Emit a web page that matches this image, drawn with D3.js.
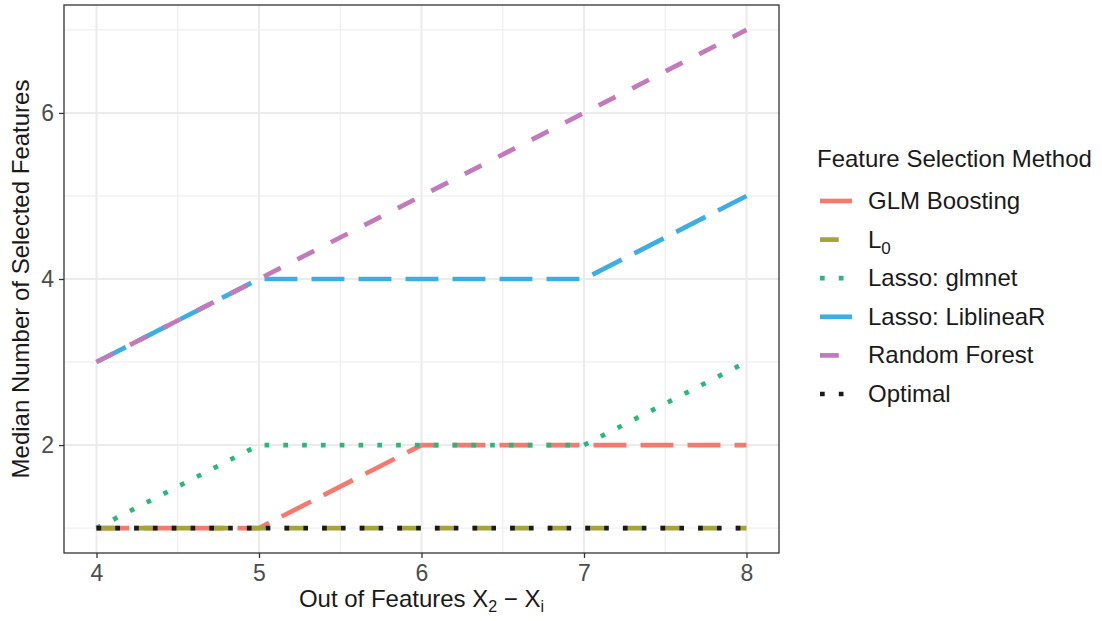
<!DOCTYPE html>
<html>
<head>
<meta charset="utf-8">
<script src="https://cdn.jsdelivr.net/npm/d3@7"></script>
<style>
  body { margin: 0; background: #fff; }
  text { font-family: "Liberation Sans", Arial, sans-serif; }
</style>
</head>
<body>
<div id="chart"></div>
<script>
// data
const outOfFeatures = [4, 5, 6, 7, 8];
const methods = ["GLM Boosting", "L0", "Lasso: glmnet", "Lasso: LiblineaR", "Random Forest", "Optimal"];
const glmBoosting = [1, 1, 2, 2, 2];
const l0 = [1, 1, 1, 1, 1];
const lassoGlmnet = [1, 2, 2, 2, 3];
const lassoLiblinear = [3, 4, 4, 4, 5];
const randomForest = [3, 4, 5, 6, 7];
const optimal = [1, 1, 1, 1, 1];
const yTicks = [2, 4, 6];
const xTicks = [4, 5, 6, 7, 8];

const width = 1102, height = 621;
const margin = { left: 64, top: 5, right: 323, bottom: 68 };
const pw = width - margin.left - margin.right;
const ph = height - margin.top - margin.bottom;
const fs = 23;

const lw = 4.7;
const styles = {
  "GLM Boosting":     { colour: "#f47a6f", dash: [7 * lw, 3 * lw] },
  "L0":               { colour: "#a4a438", dash: [4 * lw, 4 * lw] },
  "Lasso: glmnet":    { colour: "#2bb77c", dash: [1 * lw, 3 * lw] },
  "Lasso: LiblineaR": { colour: "#3caee5", dash: [7 * lw, 3 * lw] },
  "Random Forest":    { colour: "#c17bbb", dash: [4 * lw, 4 * lw] },
  "Optimal":          { colour: "#1a1a1a", dash: [1 * lw, 3 * lw] }
};

const series = [
  { name: "GLM Boosting", values: glmBoosting },
  { name: "L0", values: l0 },
  { name: "Lasso: glmnet", values: lassoGlmnet },
  { name: "Lasso: LiblineaR", values: lassoLiblinear },
  { name: "Random Forest", values: randomForest },
  { name: "Optimal", values: optimal }
];

const x = d3.scaleLinear().domain([3.8, 8.2]).range([0, pw]);
const y = d3.scaleLinear().domain([0.7, 7.3]).range([ph, 0]);

const svg = d3.select("#chart").append("svg")
  .attr("width", width).attr("height", height);

const g = svg.append("g").attr("transform", `translate(${margin.left},${margin.top})`);

// grid, minor first
const minorX = [4.5, 5.5, 6.5, 7.5];
const minorY = [1, 3, 5, 7];
g.selectAll(".minx").data(minorX).enter().append("line")
  .attr("x1", d => x(d)).attr("x2", d => x(d)).attr("y1", 0).attr("y2", ph)
  .attr("stroke", "#ebebeb").attr("stroke-width", 1);
g.selectAll(".miny").data(minorY).enter().append("line")
  .attr("y1", d => y(d)).attr("y2", d => y(d)).attr("x1", 0).attr("x2", pw)
  .attr("stroke", "#ebebeb").attr("stroke-width", 1);
g.selectAll(".majx").data(xTicks).enter().append("line")
  .attr("x1", d => x(d)).attr("x2", d => x(d)).attr("y1", 0).attr("y2", ph)
  .attr("stroke", "#ebebeb").attr("stroke-width", 2);
g.selectAll(".majy").data(yTicks).enter().append("line")
  .attr("y1", d => y(d)).attr("y2", d => y(d)).attr("x1", 0).attr("x2", pw)
  .attr("stroke", "#ebebeb").attr("stroke-width", 2);

// lines
const line = d3.line().x((d, i) => x(outOfFeatures[i])).y(d => y(d));
g.selectAll(".series").data(series).enter().append("path")
  .attr("d", d => line(d.values))
  .attr("fill", "none")
  .attr("stroke", d => styles[d.name].colour)
  .attr("stroke-width", lw)
  .attr("stroke-dasharray", d => styles[d.name].dash.join(","))
  .attr("stroke-linecap", "butt");

// panel border
g.append("rect").attr("width", pw).attr("height", ph)
  .attr("fill", "none").attr("stroke", "#333").attr("stroke-width", 1.3);

// axes
const xAxis = g.append("g").attr("transform", `translate(0,${ph})`)
  .call(d3.axisBottom(x).tickValues(xTicks).tickFormat(d3.format("d")).tickSize(5).tickPadding(5));
const yAxis = g.append("g")
  .call(d3.axisLeft(y).tickValues(yTicks).tickFormat(d3.format("d")).tickSize(5).tickPadding(5));
[xAxis, yAxis].forEach(a => {
  a.select(".domain").remove();
  a.selectAll(".tick line").attr("stroke", "#333").attr("stroke-width", 1.3);
  a.selectAll(".tick text").attr("fill", "#4d4d4d").style("font-size", fs + "px");
});
xAxis.selectAll(".tick text").attr("dy", "0.8em");

// axis titles
const xt = svg.append("text")
  .attr("x", margin.left + pw / 2).attr("y", 607)
  .attr("text-anchor", "middle").attr("fill", "#1a1a1a").style("font-size", "24px");
xt.append("tspan").text("Out of Features X");
xt.append("tspan").attr("dy", 5).style("font-size", "16px").text("2");
xt.append("tspan").attr("dy", -5).text(" \u2212 X");
xt.append("tspan").attr("dy", 5).style("font-size", "16px").text("i");

svg.append("text")
  .attr("transform", `translate(29,${margin.top + ph / 2}) rotate(-90)`)
  .attr("text-anchor", "middle").attr("fill", "#1a1a1a").style("font-size", "24px")
  .text("Median Number of Selected Features");

// legend
const legend = svg.append("g").attr("transform", "translate(817,158)");
legend.append("text").attr("x", 0).attr("y", 9).attr("fill", "#1a1a1a")
  .style("font-size", "24px").text("Feature Selection Method");
const rows = legend.selectAll(".row").data(methods).enter().append("g")
  .attr("transform", (d, i) => `translate(0,${43 + i * 38.6})`);
rows.append("line").attr("x1", 3).attr("x2", 35).attr("y1", 0).attr("y2", 0)
  .attr("stroke", d => styles[d].colour).attr("stroke-width", lw)
  .attr("stroke-dasharray", d => styles[d].dash.join(","));
rows.each(function (d) {
  const t = d3.select(this).append("text").attr("x", 51).attr("y", 8)
    .attr("fill", "#1a1a1a").style("font-size", "24px");
  if (d === "L0") {
    t.append("tspan").text("L");
    t.append("tspan").attr("dy", 6).style("font-size", "17px").text("0");
  } else {
    t.text(d);
  }
});
</script>
</body>
</html>
